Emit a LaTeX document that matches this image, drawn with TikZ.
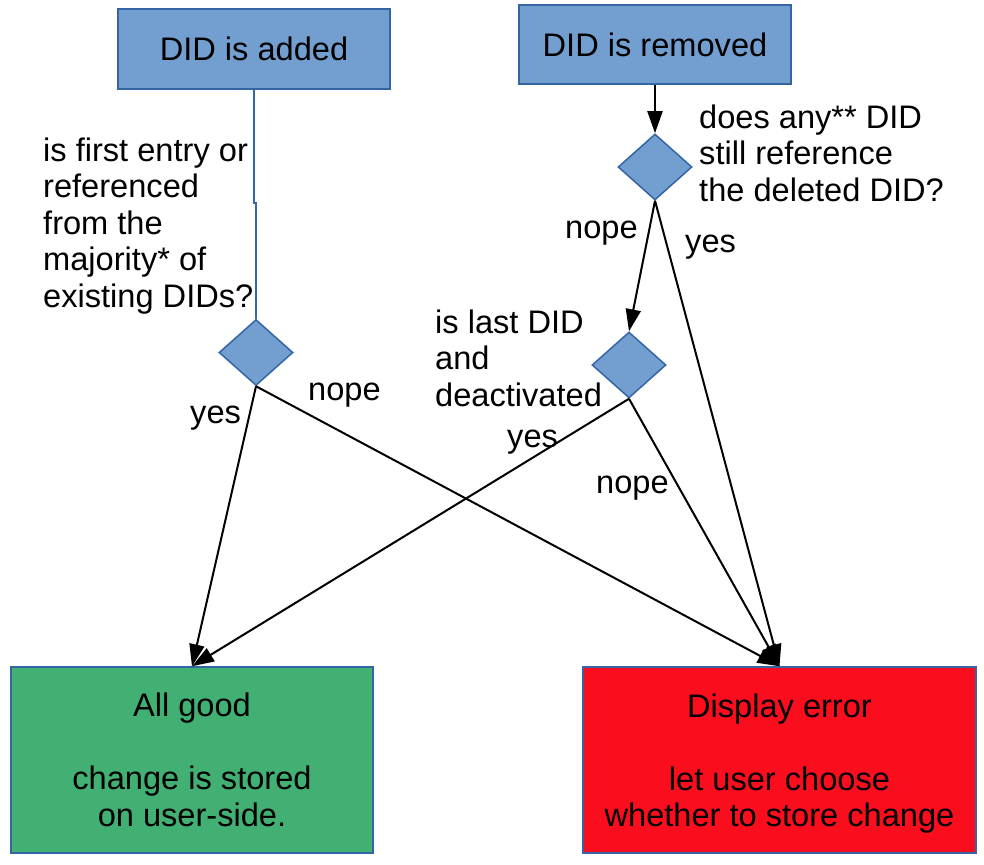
\documentclass[tikz,border=0pt]{standalone}
\usepackage{fontspec}
\setmainfont{Liberation Sans}
\usetikzlibrary{shapes.geometric,arrows.meta}
\definecolor{boxblue}{HTML}{729FCF}
\definecolor{edgeblue}{HTML}{3465A4}
\definecolor{goodgreen}{RGB}{66,176,114}
\definecolor{errred}{RGB}{250,14,30}
\begin{document}
\begin{tikzpicture}[x=1pt,y=-1pt,
  every node/.style={font=\fontsize{32.6}{36.5}\selectfont, inner sep=0pt},
  startbox/.style={draw=edgeblue, fill=boxblue, line width=1.5pt, minimum width=272pt, minimum height=80pt},
  decision/.style={diamond, draw=edgeblue, fill=boxblue, line width=1.5pt, minimum width=74pt, minimum height=66pt, aspect=1.12},
  endbox/.style={draw=edgeblue, line width=1.5pt, minimum height=186pt, align=center},
  flow/.style={draw=black, line width=2pt, -{Triangle[length=22pt,width=15pt]}},
  lbl/.style={anchor=base west, align=left}]
\useasboundingbox (0,0) rectangle (984,864);

\node[startbox] (added) at (254,49) {DID is added};
\node[startbox, minimum height=79pt] (removed) at (655,44.5) {DID is removed};

\node[decision] (d1) at (256,352.5) {};
\node[decision] (d2) at (655,167) {};
\node[decision] (d3) at (629,365) {};

\node[endbox, fill=goodgreen, minimum width=362pt] (good) at (192,760)
  {All good\\[36.5pt]change is stored\\on user-side.};
\node[endbox, fill=errred, minimum width=393pt] (err) at (779.5,760)
  {Display error\\[36.5pt]let user choose\\\raisebox{0pt}[\height][0pt]{whether to store change}};

% base anchor of a multi-line node = baseline of its last line
\node[lbl] (q1) at (43,307) {is first entry or\\referenced\\from the\\majority* of\\existing DIDs?};
\node[lbl] (q2) at (699,201) {does any** DID\\still reference\\the deleted DID?};
\node[lbl] (q3) at (435,406) {is last DID\\and\\deactivated};

\node[lbl] (l1) at (190,423) {yes};
\node[lbl] (l2) at (308,400) {nope};
\node[lbl] (l3) at (565,238) {nope};
\node[lbl] (l4) at (685,252) {yes};
\node[lbl] (l5) at (507,447) {yes};
\node[lbl] (l6) at (596,493) {nope};

\coordinate (jog) at (254,203);
\draw[edgeblue, line width=1.3pt] (added.south) -- (jog) -| (d1.north);

\draw[flow] (removed.south) -- (d2.north);
\draw[flow] (d2.south) -- (d3.north);
\draw[flow] (d2.south) -- (err.north);
\draw[flow] (d1.south) -- (good.north);
\draw[flow] (d1.south) -- (err.north);
\draw[flow] (d3.south) -- (good.north);
\draw[flow] (d3.south) -- (err.north);
\end{tikzpicture}
\end{document}
